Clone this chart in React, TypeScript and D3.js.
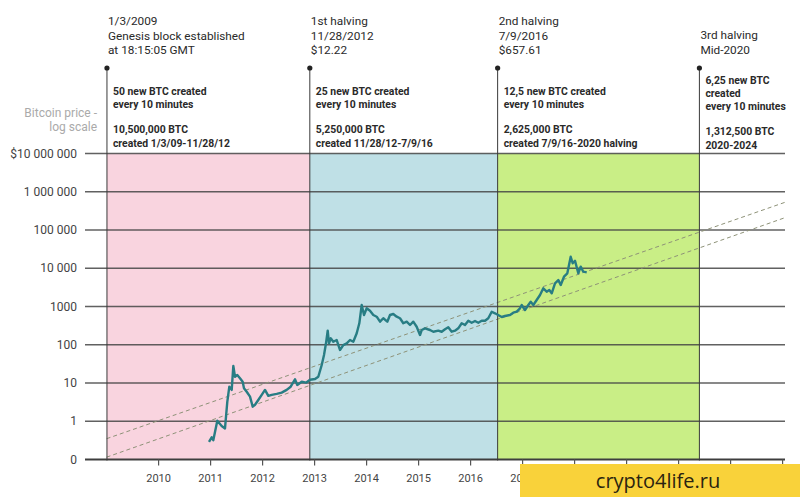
import React from "react";
import * as d3 from "d3";

// ---------- DATA ----------
const priceYears = [
  2010.969, 2011.021, 2011.052, 2011.129, 2011.213, 2011.277, 2011.321, 2011.36, 2011.406, 2011.437,
  2011.469, 2011.513, 2011.565, 2011.617, 2011.642, 2011.694, 2011.758, 2011.81, 2011.854, 2011.917,
  2011.983, 2012.046, 2012.11, 2012.175, 2012.271, 2012.367, 2012.463, 2012.54, 2012.623, 2012.667,
  2012.752, 2012.835, 2012.912, 2013.008, 2013.071, 2013.137, 2013.181, 2013.219, 2013.252, 2013.277,
  2013.31, 2013.36, 2013.425, 2013.488, 2013.552, 2013.617, 2013.681, 2013.744, 2013.81, 2013.86,
  2013.906, 2013.95, 2014.002, 2014.065, 2014.129, 2014.194, 2014.258, 2014.321, 2014.398, 2014.45,
  2014.513, 2014.579, 2014.642, 2014.706, 2014.771, 2014.835, 2014.898, 2014.963, 2015.027, 2015.06,
  2015.123, 2015.219, 2015.283, 2015.379, 2015.444, 2015.508, 2015.571, 2015.637, 2015.7, 2015.763,
  2015.829, 2015.892, 2015.956, 2016.021, 2016.085, 2016.148, 2016.213, 2016.277, 2016.34, 2016.406,
  2016.469, 2016.521, 2016.598, 2016.662, 2016.758, 2016.821, 2016.887, 2016.95, 2016.983, 2017.046,
  2017.11, 2017.156, 2017.206, 2017.271, 2017.335, 2017.398, 2017.463, 2017.513, 2017.56, 2017.623,
  2017.687, 2017.733, 2017.796, 2017.86, 2017.925, 2017.963, 2018.008, 2018.071, 2018.117, 2018.167,
  2018.233,
];
const priceValues = [
  0.29, 0.38, 0.32, 1.03, 0.75, 0.65, 3.2, 8.0, 6.6, 27.8,
  14.6, 16.2, 13.3, 10.8, 7.3, 5.9, 4.4, 2.4, 2.7, 3.6,
  4.9, 6.6, 4.6, 4.9, 5.2, 5.6, 6.6, 8.0, 12.5, 8.9,
  10.8, 10.2, 12.2, 12.7, 14.6, 29.5, 54, 109, 233, 109,
  147, 120, 133, 73, 98, 109, 133, 120, 199, 364,
  1094, 600, 897, 776, 600, 541, 401, 492, 401, 600,
  637, 541, 492, 364, 401, 328, 401, 296, 180, 243,
  269, 243, 219, 233, 219, 254, 286, 219, 233, 269,
  364, 328, 425, 377, 418, 377, 425, 425, 492, 731,
  664, 610, 531, 565, 600, 689, 731, 897, 1094, 810,
  1094, 1334, 1094, 1479, 2000, 2990, 2440, 2700, 2210, 4040,
  4930, 3650, 6010, 7380, 20000, 13500, 15700, 7380, 11000, 8130,
  7830,
];

const trendYears = [2009, 2022.05];
const trendUpper = [0.35, 532000];
const trendLower = [0.115, 211000];

const yTickValues = [0.1, 1, 10, 100, 1000, 1e4, 1e5, 1e6, 1e7];
const yTickLabels = ["0", "1", "10", "100", "1000", "10 000", "100 000", "1 000 000", "$10 000 000"];
const xTickYears = [2010, 2011, 2012, 2013, 2014, 2015, 2016, 2017, 2018, 2019, 2020, 2021, 2022];
// labels visible in the picture (the later ones sit under the watermark)
const xTickLabelYears = [2010, 2011, 2012, 2013, 2014, 2015, 2016, 2017];

const eventYears = [2009.007, 2012.908, 2016.52, 2020.4];
const eventTitles = [
  ["1/3/2009", "Genesis block established", "at 18:15:05 GMT"],
  ["1st halving", "11/28/2012", "$12.22"],
  ["2nd halving", "7/9/2016", "$657.61"],
  ["3rd halving", "Mid-2020"],
];
const eventRates = [
  ["50 new BTC created", "every 10 minutes"],
  ["25 new BTC created", "every 10 minutes"],
  ["12,5 new BTC created", "every 10 minutes"],
  ["6,25 new BTC", "created", "every 10 minutes"],
];
const eventTotals = [
  ["10,500,000 BTC", "created 1/3/09-11/28/12"],
  ["5,250,000 BTC", "created 11/28/12-7/9/16"],
  ["2,625,000 BTC", "created 7/9/16-2020 halving"],
  ["1,312,500 BTC", "2020-2024"],
];

// ---------- STYLE / LAYOUT ----------
const W = 800;
const H = 497;
const bandFills = ["#f9d4df", "#bfe0e6", "#c9ee86"];
const FONT = "Roboto, 'Noto Sans', sans-serif";

export default function App() {
  const x = d3.scaleLinear().domain([2009, 2022]).range([106.6, 782.6]);
  const y = d3.scaleLog().domain([0.1, 1e7]).range([459.5, 153.5]);

  const gridLeft = 85;
  const gridRight = 785;
  const dotY = 68;
  const axisY = y(0.1);

  const line = d3
    .line<number>()
    .x((_, i) => x(priceYears[i]))
    .y((v) => y(v))
    .curve(d3.curveLinear);

  const trendLine = (vals: number[]) =>
    d3
      .line<number>()
      .x((_, i) => x(trendYears[i]))
      .y((v) => y(v))(vals) as string;

  return (
    <svg
      width={W}
      height={H}
      viewBox={`0 0 ${W} ${H}`}
      style={{ position: "fixed", left: 0, top: 0, background: "#fff" }}
      fontFamily={FONT}
    >
      <rect x={0} y={0} width={W} height={H} fill="#fff" />

      {/* bands */}
      {bandFills.map((fill, i) => (
        <rect
          key={i}
          x={x(eventYears[i])}
          y={y(1e7)}
          width={x(eventYears[i + 1]) - x(eventYears[i])}
          height={axisY - y(1e7)}
          fill={fill}
        />
      ))}

      {/* gridlines + y labels */}
      {yTickValues.map((v, i) => (
        <g key={v}>
          <line
            x1={gridLeft}
            x2={gridRight}
            y1={y(v)}
            y2={y(v)}
            stroke={i === 0 ? "#3e3e3e" : "#454545"}
            strokeOpacity={i === 0 ? 1 : 0.85}
            strokeWidth={i === 0 ? 2 : 1.3}
          />
          <text x={77} y={y(v)} dy="0.35em" textAnchor="end" fontSize={12} fill="#444">
            {yTickLabels[i]}
          </text>
        </g>
      ))}

      {/* axis label */}
      <text x={97} y={117} textAnchor="end" fontSize={12} fill="#aaa">
        Bitcoin price -
      </text>
      <text x={97} y={131} textAnchor="end" fontSize={12} fill="#aaa">
        log scale
      </text>

      {/* x ticks */}
      {xTickYears.map((yr) => (
        <line key={yr} x1={x(yr)} x2={x(yr)} y1={axisY} y2={axisY + 6} stroke="#555" strokeWidth={1.2} />
      ))}
      {xTickLabelYears.map((yr) => (
        <text key={yr} x={x(yr)} y={482} textAnchor="middle" fontSize={11} fill="#444">
          {yr}
        </text>
      ))}

      {/* trend lines */}
      <path d={trendLine(trendUpper)} fill="none" stroke="#8e9278" strokeWidth={1} strokeDasharray="4,3" />
      <path d={trendLine(trendLower)} fill="none" stroke="#8e9278" strokeWidth={1} strokeDasharray="4,3" />

      {/* event lines */}
      {eventYears.map((yr, i) => {
        const ex = x(yr);
        const top0 = i === 3 ? 39 : 25;
        const rate0 = i === 3 ? 84 : 95;
        return (
          <g key={yr}>
            <line x1={ex} x2={ex} y1={dotY} y2={axisY + 1} stroke="#3a3a3a" strokeWidth={1} />
            <circle cx={ex} cy={dotY} r={2.6} fill="#222" />
            {eventTitles[i].map((t, j) => (
              <text key={j} x={ex + 1} y={top0 + j * 14.5} fontSize={11.8} fill="#2a2a2a">
                {t}
              </text>
            ))}
            {eventRates[i].map((t, j) => (
              <text key={j} x={ex + 6} y={rate0 + j * 13} fontSize={10.4} fontWeight={700} fill="#2a2a2a">
                {t}
              </text>
            ))}
            {eventTotals[i].map((t, j) => (
              <text key={j} x={ex + 6} y={(i === 3 ? 135 : 133) + j * 13.5} fontSize={10.4} fontWeight={700} fill="#2a2a2a">
                {t}
              </text>
            ))}
          </g>
        );
      })}

      {/* price line */}
      <path
        d={line(priceValues) as string}
        fill="none"
        stroke="#287d84"
        strokeWidth={2.4}
        strokeLinejoin="round"
      />

      {/* watermark */}
      <rect x={520} y={464} width={280} height={33} fill="#f9d23a" />
      <text x={658} y={488} textAnchor="middle" fontSize={20} fill="#2a2410" fontFamily="'Open Sans', sans-serif">
        crypto4life.ru
      </text>
    </svg>
  );
}
